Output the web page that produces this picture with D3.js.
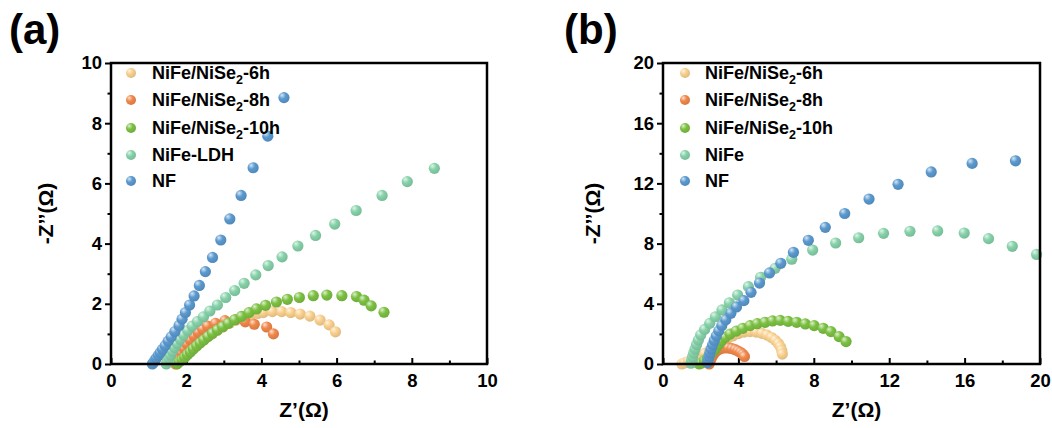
<!DOCTYPE html>
<html>
<head>
<meta charset="utf-8">
<script src="https://cdn.jsdelivr.net/npm/d3@7"></script>
<style>
  body { margin: 0; background: #fff; }
  svg { display: block; font-family: "Liberation Sans", Arial, sans-serif; }
  .tick text { font-family: "Liberation Sans", Arial, sans-serif; font-weight: bold; font-size: 18.5px; fill: #000; }
  .tick line { stroke: #000; stroke-width: 2; }
</style>
</head>
<body>
<div id="chart"></div>
<script>
// series names and colours (legend order = draw order)
const namesA = ["NiFe/NiSe2-6h", "NiFe/NiSe2-8h", "NiFe/NiSe2-10h", "NiFe-LDH", "NF"];
const namesB = ["NiFe/NiSe2-6h", "NiFe/NiSe2-8h", "NiFe/NiSe2-10h", "NiFe", "NF"];
const colors = ["#f9d08e", "#f0874a", "#7cc142", "#86d2a9", "#5a99cf"];

// ticks
const xTicksA = [0, 2, 4, 6, 8, 10];
const yTicksA = [0, 2, 4, 6, 8, 10];
const xMinorA = [1, 3, 5, 7, 9];
const yMinorA = [1, 3, 5, 7, 9];
const xTicksB = [0, 4, 8, 12, 16, 20];
const yTicksB = [0, 4, 8, 12, 16, 20];
const xMinorB = [2, 6, 10, 14, 18];
const yMinorB = [2, 6, 10, 14, 18];

// panel (a) Nyquist data [Z', -Z'']
const a6h = [[1.75,0],[1.82,0.1],[1.9,0.2],[1.98,0.3],[2.07,0.41],[2.17,0.52],[2.28,0.63],[2.4,0.75],[2.53,0.87],[2.67,0.99],[2.82,1.11],[2.98,1.23],[3.15,1.35],[3.33,1.46],[3.52,1.55],[3.72,1.62],[3.9,1.68],[4.05,1.71],[4.29,1.74],[4.54,1.74],[4.78,1.71],[5.03,1.66],[5.29,1.59],[5.56,1.46],[5.8,1.3],[5.97,1.07]];
const a8h = [[1.72,0],[1.76,0.12],[1.81,0.25],[1.87,0.38],[1.94,0.52],[2.02,0.66],[2.11,0.8],[2.21,0.93],[2.32,1.05],[2.44,1.16],[2.57,1.26],[2.78,1.35],[3.03,1.44],[3.3,1.47],[3.57,1.4],[3.81,1.32],[4.14,1.23],[4.32,1.0]];
const a10h = [[1.76,0.01],[1.82,0.07],[1.89,0.14],[1.96,0.22],[2.03,0.31],[2.11,0.4],[2.19,0.5],[2.28,0.6],[2.37,0.7],[2.47,0.8],[2.58,0.91],[2.7,1.02],[2.83,1.13],[2.97,1.24],[3.12,1.35],[3.29,1.47],[3.47,1.58],[3.67,1.71],[3.87,1.83],[4.11,1.95],[4.4,2.06],[4.69,2.15],[5.01,2.21],[5.38,2.27],[5.74,2.29],[6.14,2.27],[6.53,2.24],[6.73,2.12],[6.92,1.93],[7.26,1.72]];
const aLDH = [[1.47,0],[1.5,0.09],[1.54,0.19],[1.58,0.3],[1.63,0.42],[1.69,0.55],[1.76,0.68],[1.84,0.82],[1.93,0.96],[2.04,1.11],[2.16,1.26],[2.3,1.41],[2.46,1.57],[2.63,1.76],[2.83,1.96],[3.05,2.21],[3.29,2.44],[3.54,2.68],[3.85,2.96],[4.18,3.27],[4.55,3.56],[4.97,3.92],[5.44,4.27],[5.95,4.65],[6.52,5.1],[7.21,5.6],[7.88,6.06],[8.6,6.5]];
const aNF = [[1.1,0],[1.13,0.05],[1.17,0.13],[1.21,0.2],[1.26,0.29],[1.31,0.38],[1.37,0.49],[1.44,0.61],[1.52,0.76],[1.6,0.9],[1.7,1.08],[1.81,1.28],[1.89,1.49],[1.98,1.71],[2.09,1.96],[2.21,2.26],[2.35,2.61],[2.51,3.07],[2.7,3.54],[2.92,4.12],[3.16,4.82],[3.46,5.6],[3.78,6.52],[4.17,7.57],[4.6,8.85]];

// panel (b) Nyquist data [Z', -Z'']
const b6h = [[1.0,0],[1.15,0.08],[1.35,0.18],[1.6,0.32],[1.9,0.5],[2.2,0.7],[2.5,0.92],[2.8,1.15],[3.1,1.4],[3.4,1.65],[3.7,1.86],[4.0,2.02],[4.3,2.12],[4.62,2.15],[4.95,2.12],[5.25,2.04],[5.52,1.92],[5.76,1.76],[5.96,1.57],[6.12,1.36],[6.23,1.14],[6.3,0.9],[6.33,0.66]];
const b8h = [[2.45,0],[2.5,0.2],[2.57,0.4],[2.66,0.6],[2.78,0.8],[2.94,0.95],[3.12,1.04],[3.3,1.07],[3.48,1.06],[3.66,1.02],[3.83,0.95],[3.98,0.86],[4.12,0.76],[4.24,0.64],[4.32,0.5]];
const b10h = [[1.92,0],[2.05,0.07],[2.2,0.22],[2.35,0.4],[2.5,0.6],[2.65,0.82],[2.8,1.05],[2.95,1.3],[3.1,1.55],[3.3,1.77],[3.56,1.99],[3.89,2.19],[4.23,2.37],[4.62,2.55],[5.0,2.68],[5.42,2.77],[5.81,2.86],[6.22,2.9],[6.64,2.83],[7.09,2.77],[7.55,2.66],[8.02,2.55],[8.5,2.37],[8.91,2.15],[9.34,1.82],[9.71,1.49]];
const bNiFe = [[1.48,0.05],[1.52,0.25],[1.57,0.48],[1.63,0.73],[1.7,1.0],[1.78,1.3],[1.88,1.6],[2.0,1.93],[2.21,2.3],[2.48,2.7],[2.78,3.14],[3.13,3.59],[3.52,4.07],[3.96,4.58],[4.53,5.14],[5.18,5.76],[5.95,6.36],[6.83,6.96],[7.94,7.57],[9.16,8.04],[10.38,8.39],[11.7,8.68],[13.1,8.82],[14.57,8.84],[15.98,8.7],[17.27,8.33],[18.53,7.82],[19.82,7.28]];
const bNF = [[2.37,0.1],[2.4,0.3],[2.44,0.52],[2.49,0.75],[2.55,1.0],[2.63,1.27],[2.72,1.56],[2.83,1.87],[2.96,2.2],[3.12,2.55],[3.33,2.93],[3.6,3.37],[3.9,3.79],[4.29,4.21],[4.67,4.76],[5.12,5.38],[5.65,6.05],[6.25,6.69],[6.92,7.42],[7.71,8.22],[8.61,9.08],[9.64,10.0],[10.93,10.96],[12.47,11.94],[14.23,12.76],[16.4,13.33],[18.7,13.5]];

const seriesA = [a6h, a8h, a10h, aLDH, aNF];
const seriesB = [b6h, b8h, b10h, bNiFe, bNF];

const width = 1052;
const height = 428;

const svg = d3.select("#chart").append("svg").attr("width", width).attr("height", height);
const defs = svg.append("defs");

// sphere-like gradients
colors.forEach((c, i) => {
  const grad = defs.append("radialGradient")
    .attr("id", `ball-${i}`)
    .attr("cx", "0.38").attr("cy", "0.35").attr("r", "0.7")
    .attr("fx", "0.32").attr("fy", "0.28");
  grad.append("stop").attr("offset", "0%").attr("stop-color", d3.interpolateRgb(c, "#fff")(0.75));
  grad.append("stop").attr("offset", "45%").attr("stop-color", c);
  grad.append("stop").attr("offset", "100%").attr("stop-color", d3.color(c).darker(0.35));
});

const panels = [
  { label: "(a)", labelX: 9, left: 111, right: 487, xMax: 10, yMax: 10, yTitleX: 46,
    xMajor: xTicksA, xMinor: xMinorA, yMajor: yTicksA, yMinor: yMinorA,
    series: seriesA, names: namesA, legX: 131, legTextX: 152 },
  { label: "(b)", labelX: 564, left: 663, right: 1040, xMax: 20, yMax: 20, yTitleX: 593,
    xMajor: xTicksB, xMinor: xMinorB, yMajor: yTicksB, yMinor: yMinorB,
    series: seriesB, names: namesB, legX: 685, legTextX: 705 }
];
const plotTop = 63;
const plotBottom = 364;
const legRows = [73, 100, 128, 155, 181];

panels.forEach((p) => {
  const x = d3.scaleLinear().domain([0, p.xMax]).range([p.left, p.right]);
  const y = d3.scaleLinear().domain([0, p.yMax]).range([plotBottom, plotTop]);
  const g = svg.append("g");

  // panel label
  g.append("text")
    .attr("x", p.labelX).attr("y", 44)
    .style("font-size", "42px").style("font-weight", "bold")
    .text(p.label);

  // x axis: ticks pointing inward
  g.append("g").attr("transform", `translate(0,${plotBottom})`)
    .call(d3.axisBottom(x).tickValues(p.xMinor).tickSizeInner(-3.5).tickSizeOuter(0).tickFormat(""))
    .call((s) => s.select(".domain").remove());
  g.append("g").attr("transform", `translate(0,${plotBottom})`)
    .call(d3.axisBottom(x).tickValues(p.xMajor).tickSizeInner(-6).tickSizeOuter(0).tickPadding(10).tickFormat(d3.format("d")))
    .call((s) => s.select(".domain").remove());

  // y axis: ticks pointing outward
  g.append("g").attr("transform", `translate(${p.left},0)`)
    .call(d3.axisLeft(y).tickValues(p.yMinor).tickSizeInner(3.5).tickSizeOuter(0).tickFormat(""))
    .call((s) => s.select(".domain").remove());
  g.append("g").attr("transform", `translate(${p.left},0)`)
    .call(d3.axisLeft(y).tickValues(p.yMajor).tickSizeInner(6).tickSizeOuter(0).tickPadding(3).tickFormat(d3.format("d")))
    .call((s) => s.select(".domain").remove());

  // data
  p.series.forEach((pts, i) => {
    g.append("g").selectAll("circle")
      .data(pts)
      .join("circle")
      .attr("cx", (d) => x(d[0]))
      .attr("cy", (d) => y(d[1]))
      .attr("r", 5.6)
      .attr("fill", `url(#ball-${i})`);
  });

  // frame
  g.append("rect")
    .attr("x", p.left).attr("y", plotTop)
    .attr("width", p.right - p.left).attr("height", plotBottom - plotTop)
    .attr("fill", "none").attr("stroke", "#000").attr("stroke-width", 2.5);

  // legend
  p.names.forEach((name, i) => {
    const row = g.append("g");
    row.append("circle")
      .attr("cx", p.legX).attr("cy", legRows[i]).attr("r", 5)
      .attr("fill", `url(#ball-${i})`);
    const t = row.append("text")
      .attr("x", p.legTextX).attr("y", legRows[i] + 6)
      .style("font-size", "18px").style("font-weight", "bold");
    const m = name.match(/^(.*NiSe)2(.*)$/);
    if (m) {
      t.append("tspan").text(m[1]);
      t.append("tspan").attr("dy", 5).style("font-size", "12.5px").text("2");
      t.append("tspan").attr("dy", -5).text(m[2]);
    } else {
      t.text(name);
    }
  });

  // axis titles
  g.append("text")
    .attr("x", (p.left + p.right) / 2 + 5).attr("y", 417)
    .attr("text-anchor", "middle")
    .style("font-size", "21px").style("font-weight", "bold")
    .text("Z’(Ω)");
  g.append("text")
    .attr("transform", `translate(${p.yTitleX + 7},${(plotTop + plotBottom) / 2}) rotate(-90)`)
    .attr("text-anchor", "middle")
    .style("font-size", "21px").style("font-weight", "bold")
    .text("-Z’’(Ω)");
});
</script>
</body>
</html>
